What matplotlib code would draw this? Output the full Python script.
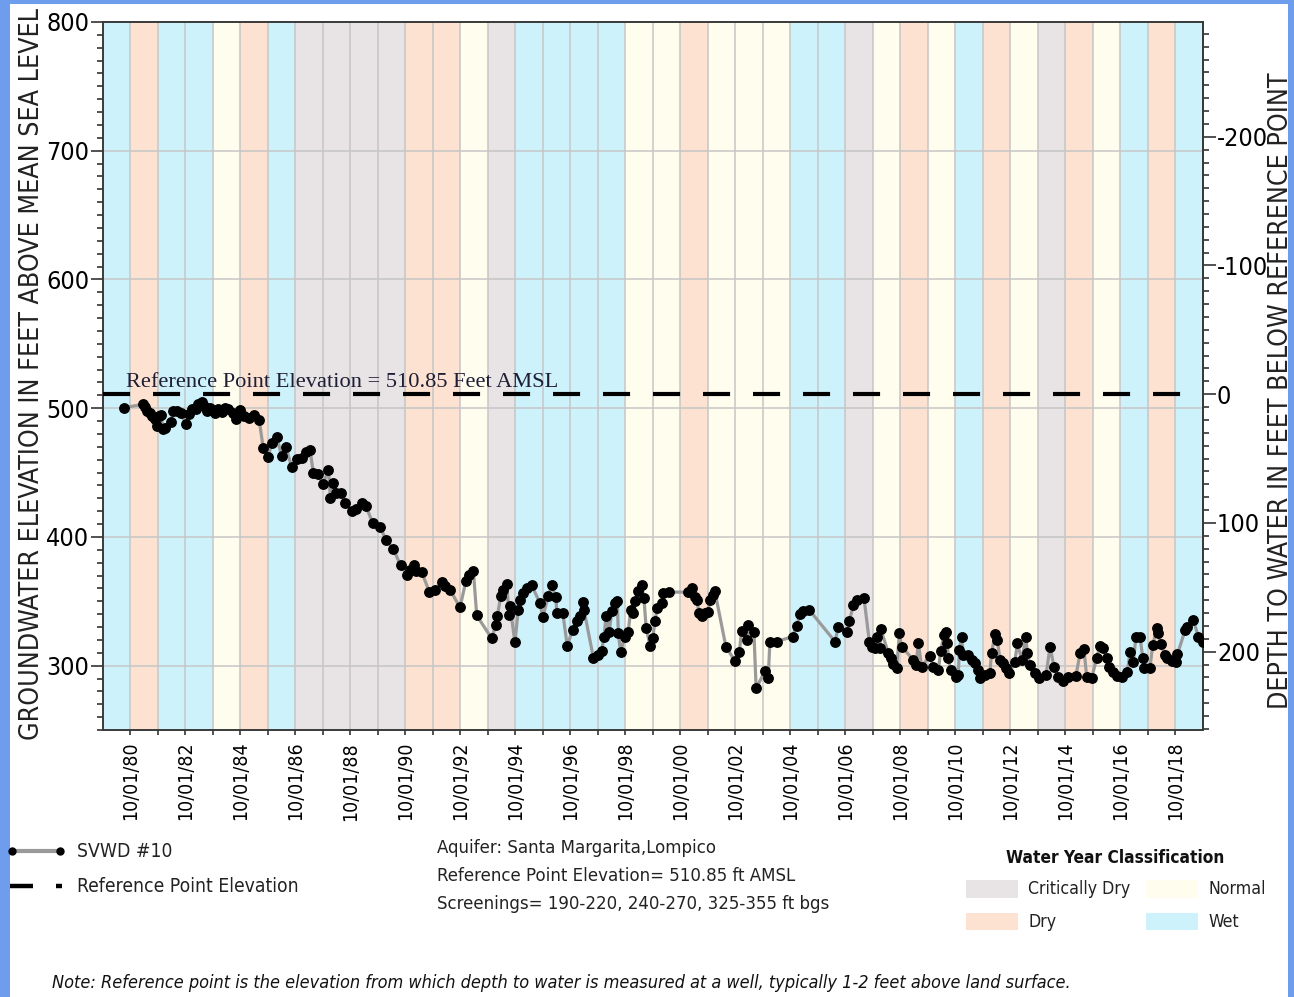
import numpy as np
import matplotlib
matplotlib.use('Agg')
import matplotlib.pyplot as plt
from matplotlib.ticker import FixedLocator, MultipleLocator
from matplotlib.patches import Rectangle

plt.rcParams['font.family'] = ['DejaVu Sans']
plt.rcParams['font.stretch'] = 'condensed'
plt.rcParams['axes.unicode_minus'] = False

# water years 1980..2019 (each starts 10/01 of previous year)
water_years = list(range(1980, 2020))
wy_class = ['W', 'D', 'W', 'W', 'N', 'D', 'W', 'C', 'C', 'C',
            'C', 'D', 'D', 'N', 'C', 'W', 'W', 'W', 'W', 'N',
            'N', 'D', 'N', 'N', 'N', 'W', 'W', 'C', 'N', 'D',
            'N', 'W', 'D', 'N', 'C', 'D', 'N', 'W', 'D', 'W']
class_colors = {'C': '#e8e3e4', 'D': '#fde2d1', 'N': '#fffdee', 'W': '#cdf2fb'}
class_names = {'C': 'Critically Dry', 'D': 'Dry', 'N': 'Normal', 'W': 'Wet'}

ref_elev = 510.85

# measurements, decimal year and groundwater elevation (ft AMSL)
obs_year = [
    1980.51, 1981.22, 1981.28, 1981.34, 1981.46, 1981.55, 1981.64, 1981.73, 1981.77, 1981.85,
    1981.94, 1982.00, 1982.22, 1982.30, 1982.45, 1982.57, 1982.77, 1982.89, 1983.00, 1983.12,
    1983.22, 1983.34, 1983.42, 1983.55, 1983.65, 1983.82, 1983.94, 1984.06, 1984.18, 1984.30,
    1984.46, 1984.58, 1984.73, 1984.88, 1985.06, 1985.23, 1985.43, 1985.58, 1985.76, 1985.88,
    1986.07, 1986.25, 1986.40, 1986.61, 1986.79, 1986.97, 1987.12, 1987.28, 1987.40, 1987.58,
    1987.74, 1987.95, 1988.02, 1988.11, 1988.24, 1988.39, 1988.55, 1988.79, 1988.94, 1989.16,
    1989.31, 1989.56, 1989.82, 1990.04, 1990.31, 1990.57, 1990.82, 1990.91, 1991.06, 1991.13,
    1991.34, 1991.62, 1991.82, 1992.07, 1992.19, 1992.37, 1992.73, 1992.95, 1993.07, 1993.22,
    1993.34, 1993.88, 1994.04, 1994.09, 1994.21, 1994.31, 1994.43, 1994.52, 1994.55, 1994.73,
    1994.85, 1994.91, 1995.04, 1995.16, 1995.34, 1995.64, 1995.74, 1995.94, 1996.07, 1996.22,
    1996.25, 1996.47, 1996.63, 1996.83, 1996.98, 1997.10, 1997.22, 1997.24, 1997.58, 1997.76,
    1997.88, 1997.97, 1998.04, 1998.16, 1998.25, 1998.37, 1998.45, 1998.49, 1998.57, 1998.73,
    1998.85, 1998.94, 1999.03, 1999.10, 1999.22, 1999.34, 1999.42, 1999.50, 1999.64, 1999.74,
    1999.82, 1999.91, 2000.07, 2000.13, 2000.34, 2001.04, 2001.16, 2001.28, 2001.34, 2001.43,
    2001.52, 2001.64, 2001.76, 2001.82, 2001.92, 2002.00, 2002.40, 2002.73, 2002.89, 2002.97,
    2003.16, 2003.22, 2003.42, 2003.50, 2003.82, 2003.94, 2004.00, 2004.25, 2004.83, 2004.97,
    2005.10, 2005.19, 2005.43, 2006.37, 2006.49, 2006.82, 2006.89, 2007.04, 2007.16, 2007.42,
    2007.62, 2007.70, 2007.82, 2007.91, 2008.00, 2008.03, 2008.31, 2008.39, 2008.49, 2008.61,
    2008.71, 2008.79, 2009.22, 2009.31, 2009.40, 2009.52, 2009.82, 2009.94, 2010.13, 2010.21,
    2010.33, 2010.40, 2010.45, 2010.49, 2010.57, 2010.77, 2010.85, 2010.89, 2010.97, 2011.03,
    2011.22, 2011.34, 2011.46, 2011.58, 2011.64, 2011.82, 2012.00, 2012.06, 2012.19, 2012.27,
    2012.37, 2012.46, 2012.59, 2012.71, 2012.91, 2013.00, 2013.16, 2013.31, 2013.36, 2013.46,
    2013.64, 2013.80, 2014.04, 2014.19, 2014.33, 2014.49, 2014.65, 2014.85, 2015.13, 2015.28,
    2015.42, 2015.52, 2015.70, 2015.88, 2016.00, 2016.10, 2016.25, 2016.34, 2016.47, 2016.61,
    2016.79, 2017.00, 2017.10, 2017.22, 2017.31, 2017.46, 2017.56, 2017.60, 2017.82, 2017.92,
    2018.07, 2018.13, 2018.21, 2018.37, 2018.45, 2018.61, 2018.77, 2018.82, 2019.10, 2019.18,
    2019.40, 2019.58, 2019.74]
obs_elev = [
    500.4, 503.0, 500.9, 497.8, 496.5, 494.0, 491.3, 486.0, 494.0, 494.7,
    483.5, 484.8, 489.2, 497.8, 497.8, 496.5, 487.4, 495.3, 499.1, 499.1,
    503.5, 505.0, 501.7, 497.8, 500.4, 496.5, 499.1, 497.4, 500.4, 499.1,
    496.5, 491.3, 498.3, 494.0, 492.6, 494.7, 490.6, 468.7, 462.0, 473.1,
    477.5, 462.8, 469.9, 454.2, 460.2, 461.0, 466.1, 467.2, 449.8, 448.5,
    441.3, 451.6, 430.3, 442.0, 434.2, 434.2, 426.4, 420.0, 421.3, 426.4,
    423.8, 410.8, 407.7, 397.9, 390.5, 377.9, 370.6, 374.5, 378.4, 373.2,
    372.7, 357.1, 359.0, 364.9, 361.5, 359.0, 345.2, 366.0, 370.6, 373.2,
    339.0, 321.3, 331.7, 338.2, 353.8, 359.0, 363.4, 339.0, 346.0, 318.2,
    343.4, 351.2, 356.4, 360.3, 362.3, 348.6, 337.4, 353.8, 362.3, 353.0,
    340.8, 340.8, 315.6, 327.8, 334.3, 338.2, 349.4, 343.4, 306.3, 308.3,
    311.4, 322.6, 338.2, 326.5, 342.1, 348.6, 350.4, 325.2, 310.9, 322.6,
    326.5, 343.4, 340.8, 349.9, 357.7, 362.3, 352.5, 329.6, 315.6, 321.3,
    334.3, 344.7, 348.6, 356.4, 357.1, 357.1, 360.2, 353.7, 351.1, 340.8,
    338.2, 340.8, 342.0, 351.1, 355.0, 357.6, 314.8, 303.6, 310.4, 327.0,
    320.0, 331.7, 326.0, 282.3, 295.8, 290.6, 318.2, 318.7, 322.6, 331.1,
    340.0, 342.1, 343.3, 318.7, 330.4, 326.5, 334.8, 347.2, 351.1, 352.9,
    318.2, 314.8, 313.5, 322.6, 313.5, 328.5, 309.6, 305.7, 301.0, 297.9,
    325.2, 314.8, 304.4, 300.5, 317.4, 299.2, 307.7, 299.2, 296.6, 311.4,
    323.8, 326.4, 317.3, 305.7, 296.6, 291.4, 292.7, 312.2, 322.5, 308.3,
    308.3, 304.4, 301.8, 296.6, 290.1, 292.7, 294.0, 309.6, 324.4, 319.9,
    304.4, 301.8, 297.9, 294.0, 303.1, 317.3, 304.4, 322.5, 309.6, 300.5,
    294.0, 290.1, 292.7, 314.7, 299.2, 291.4, 288.0, 291.4, 292.2, 309.6,
    312.9, 291.4, 290.1, 305.7, 315.5, 313.5, 305.7, 299.2, 295.3, 292.2,
    291.4, 295.3, 310.9, 303.1, 322.5, 322.5, 305.7, 298.0, 298.0, 316.0,
    329.0, 325.1, 316.6, 308.3, 305.7, 303.6, 302.6, 308.8, 327.7, 330.3,
    335.5, 322.5, 318.1]

xtick_pos = [y + 0.75 for y in range(1980, 2019)]
xtick_labels = ['10/01/%02d' % (y % 100) if (y % 2 == 0) else '' for y in range(1980, 2019)]

W, H = 1294, 997
fig = plt.figure(figsize=(W / 100, H / 100), dpi=100)
fig.patch.set_facecolor('#6f9ded')

# overlay in pixel coordinates for frame, legends and notes
ov = fig.add_axes([0, 0, 1, 1], zorder=0)
ov.set_xlim(0, W)
ov.set_ylim(H, 0)
ov.axis('off')
ov.add_patch(Rectangle((10, 4), 1278, 1000, facecolor='white', edgecolor='none'))

ax = fig.add_axes([103 / W, 1 - 730 / H, 1100 / W, 708 / H], zorder=1)

# water year runs 10/01 of previous year to 09/30
for wy, c in zip(water_years, wy_class):
    ax.axvspan(wy - 0.25, wy + 0.75, facecolor=class_colors[c], edgecolor='none', zorder=0)

ax.plot(obs_year, obs_elev, color='#9a9a9a', lw=2.3, zorder=3)
ax.plot(obs_year, obs_elev, 'o', color='black', ms=6.8, zorder=4)
ax.axhline(ref_elev, color='black', lw=3, dashes=(6.5, 5.5), zorder=5)
ax.text(1980.6, ref_elev + 5.5, 'Reference Point Elevation = %.2f Feet AMSL' % ref_elev,
        family='Liberation Serif', fontsize=16.1, color='#1e1e36', va='baseline', zorder=6)

ax.set_xlim(1979.75, 2019.75)
ax.set_ylim(250, 800)
ax.xaxis.set_major_locator(FixedLocator(xtick_pos))
ax.set_xticklabels(xtick_labels, rotation=90, fontsize=14)
ax.set_yticks(range(300, 801, 100))
ax.yaxis.set_minor_locator(MultipleLocator(10))
ax.tick_params(axis='y', labelsize=18, length=9, width=1.2, color='#333333', pad=1)
ax.tick_params(axis='y', which='minor', length=4, width=1.2, color='#333333')
ax.tick_params(axis='x', length=3.5, width=1.2, color='#333333', pad=5)
ax.set_axisbelow(True)
ax.grid(True, color='#c6c6c6', lw=1.1)
for s in ax.spines.values():
    s.set_color('#3a3a3a')
    s.set_linewidth(1.4)

sec = ax.secondary_yaxis('right', functions=(lambda e: ref_elev - e, lambda d: ref_elev - d))
sec.set_yticks([-200, -100, 0, 100, 200])
sec.yaxis.set_minor_locator(MultipleLocator(10))
sec.tick_params(axis='y', labelsize=18, length=9, width=1.2, color='#333333', pad=1)
sec.tick_params(axis='y', which='minor', length=4, width=1.2, color='#333333')
sec.spines['right'].set_color('#3a3a3a')
sec.spines['right'].set_linewidth(1.4)

fig.text(32 / W, 1 - 374 / H, 'GROUNDWATER ELEVATION IN FEET ABOVE MEAN SEA LEVEL',
         rotation=90, ha='center', va='center', fontsize=19.2, color='#222222')
fig.text(1281 / W, 1 - 391 / H, 'DEPTH TO WATER IN FEET BELOW REFERENCE POINT',
         rotation=90, ha='center', va='center', fontsize=19.2, color='#222222')

# series legend
txt = dict(color='#222222', va='center')
ov.plot([10, 60], [851, 851], color='#9a9a9a', lw=3, solid_capstyle='butt')
ov.plot([12, 60], [851, 851], 'o', color='black', ms=5)
ov.text(77, 851, 'SVWD #10', fontsize=13.9, **txt)
ov.plot([10, 33], [886, 886], color='black', lw=3.2, solid_capstyle='butt')
ov.plot([56, 62], [886, 886], color='black', lw=3.2, solid_capstyle='butt')
ov.text(77, 886, 'Reference Point Elevation', fontsize=13.9, **txt)

info_lines = ['Aquifer: Santa Margarita,Lompico',
              'Reference Point Elevation= %.2f ft AMSL' % ref_elev,
              'Screenings= 190-220, 240-270, 325-355 ft bgs']
for i, line in enumerate(info_lines):
    ov.text(437, 848 + 28 * i, line, fontsize=13.3, **txt)

# water year classification legend
ov.text(1115, 858, 'Water Year Classification', fontsize=12.4, fontweight='bold',
        color='#111111', ha='center', va='center')
for i, c in enumerate(['C', 'N', 'D', 'W']):
    col, row = i % 2, i // 2
    x0 = 966 + 180 * col
    y0 = 880 + 32.5 * row
    ov.add_patch(Rectangle((x0, y0), 52, 17.5, facecolor=class_colors[c], edgecolor='none'))
    ov.text(x0 + 62, y0 + 9, class_names[c], fontsize=12.7, **txt)

ov.text(52, 983, 'Note: Reference point is the elevation from which depth to water is measured at a well, '
        'typically 1-2 feet above land surface.', fontsize=13.0, style='italic', color='#111111',
        va='center')

fig.savefig('out.png', dpi=100, facecolor=fig.get_facecolor())
